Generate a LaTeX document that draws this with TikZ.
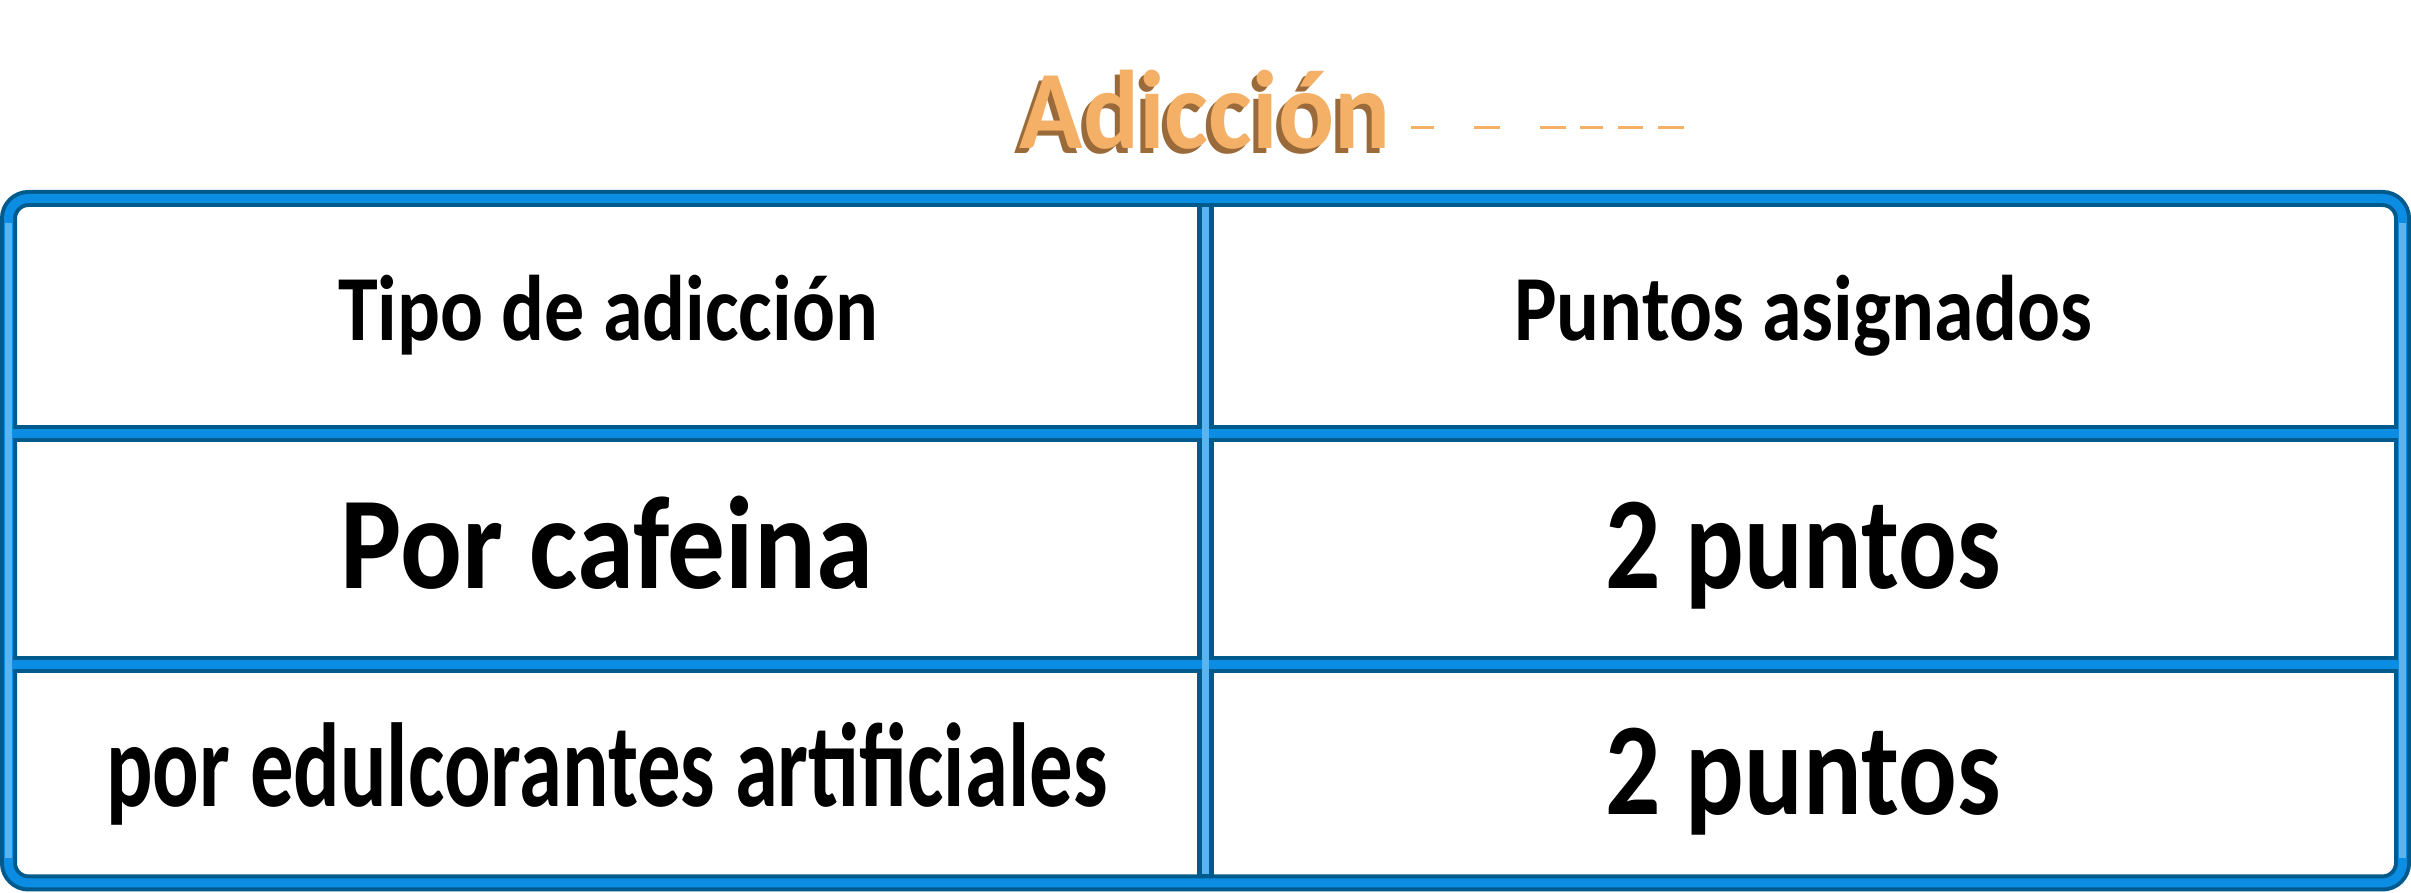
\documentclass[tikz,border=0pt]{standalone}
\usepackage{fontspec}
\setmainfont{Carlito}
\usepackage{xcolor}
\usetikzlibrary{positioning}
\definecolor{framedark}{HTML}{005A8C}
\definecolor{framemid}{HTML}{0A8DE3}
\definecolor{framelight}{HTML}{5AB4F0}
\definecolor{titleorange}{HTML}{F4B066}
\definecolor{titlebrown}{HTML}{9A6A3A}
\begin{document}
\begin{tikzpicture}[
    header/.style={
        anchor=base,
        xscale=0.86,
        font=\fontsize{26.5}{30}\selectfont\bfseries
    },
    entry/.style={
        anchor=base,
        font=\fontsize{37.5}{42}\selectfont\bfseries
    },
    titletext/.style={
        anchor=base,
        xscale=0.935,
        font=\fontsize{31.8}{36}\selectfont\bfseries
    },
    rim/.style={line width=0.17cm, draw=framedark},
    shine/.style={line width=0.09cm, draw=framemid},
    gleam/.style={line width=0.07cm, draw=framelight}
]
\useasboundingbox (0,0) rectangle (24.11,8.93);

% Frame corners and grid lines
\coordinate (tl) at (0.085,6.945);
\coordinate (br) at (24.025,0.10);
\coordinate (rowa) at (0,4.59);
\coordinate (rowb) at (0,2.285);
\coordinate (colm) at (12.055,0);

% Dark frame
\draw[rim, rounded corners=0.2cm] (tl) rectangle (br);
\draw[rim] (tl |- rowa) -- (br |- rowa);
\draw[rim] (tl |- rowb) -- (br |- rowb);
\draw[rim] (colm |- tl) -- (colm |- br);

% Light edges
\begin{scope}[xshift=0.04cm, yshift=0.04cm]
\draw[shine, rounded corners=0.2cm] (tl) rectangle (br);
\draw[shine] (tl |- rowa) -- (br |- rowa);
\draw[shine] (tl |- rowb) -- (br |- rowb);
\draw[gleam] ([yshift=-0.25cm]tl) -- ([yshift=0.25cm]tl |- br);
\draw[gleam] ([yshift=-0.25cm]br |- tl) -- ([yshift=0.25cm]br);
\draw[gleam] ([yshift=-0.09cm]colm |- tl) -- ([yshift=0.09cm]colm |- br);
\end{scope}

% Title
\node[titletext, text=titlebrown] (titleshade) at (12.00,7.39) {Adicción};
\node[titletext, text=titleorange] (title) at (12.05,7.44) {Adicción};
\foreach \xa/\xb in {14.11/14.34, 14.74/15.00, 15.40/15.66, 15.80/16.03, 16.18/16.43, 16.58/16.84}
    \draw[titleorange, line width=0.03cm] (\xa,7.65) -- (\xb,7.65);

% Cell texts
\node[header] (typehead) at (6.08,5.52) {Tipo de adicción};
\node[header] (pointshead) at (18.03,5.52) {Puntos asignados};
\node[entry, xscale=0.875] (caffeine) at (6.07,3.04) {Por cafeina};
\node[entry, xscale=0.83] (caffeinepts) at (18.03,3.04) {2 puntos};
\node[entry, xscale=0.726, font=\fontsize{34}{40}\selectfont\bfseries] (sweetener) at (6.07,0.86) {por edulcorantes artificiales};
\node[entry, xscale=0.83] (sweetenerpts) at (18.03,0.78) {2 puntos};

\end{tikzpicture}
\end{document}
